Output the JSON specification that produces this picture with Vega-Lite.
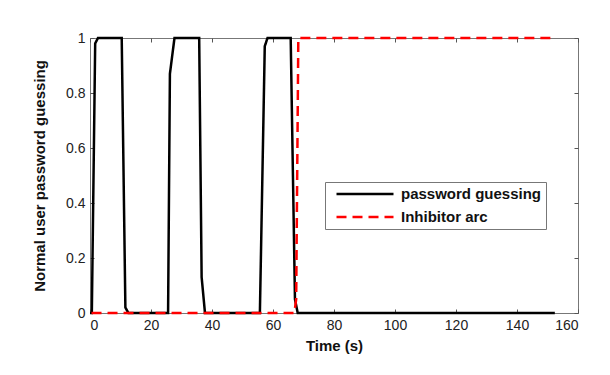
{
  "$schema": "https://vega.github.io/schema/vega-lite/v6.json",
  "autosize": {"type": "none"},
  "width": 488,
  "height": 275,
  "padding": {"left": 90, "top": 38, "right": 32, "bottom": 62},
  "background": "white",
  "config": {
    "font": "Liberation Sans",
    "view": {"stroke": "#777", "strokeWidth": 1},
    "axis": {"grid": false, "domain": false, "tickColor": "#555", "tickSize": -4, "labelFontSize": 14, "labelColor": "#222", "titleFontSize": 15, "titleFontWeight": "bold", "titleColor": "#111"}
  },
  "data": {"values": [
    {"t": 0, "v": 0, "s": "password guessing"},
    {"t": 0.6, "v": 0, "s": "password guessing"},
    {"t": 1.7, "v": 0.98, "s": "password guessing"},
    {"t": 2.6, "v": 1, "s": "password guessing"},
    {"t": 10.4, "v": 1, "s": "password guessing"},
    {"t": 11.6, "v": 0.02, "s": "password guessing"},
    {"t": 12.6, "v": 0, "s": "password guessing"},
    {"t": 25.6, "v": 0, "s": "password guessing"},
    {"t": 26.2, "v": 0.87, "s": "password guessing"},
    {"t": 27.7, "v": 1, "s": "password guessing"},
    {"t": 35.8, "v": 1, "s": "password guessing"},
    {"t": 36.6, "v": 0.13, "s": "password guessing"},
    {"t": 37.7, "v": 0, "s": "password guessing"},
    {"t": 55.7, "v": 0, "s": "password guessing"},
    {"t": 57.3, "v": 0.97, "s": "password guessing"},
    {"t": 58.2, "v": 1, "s": "password guessing"},
    {"t": 65.8, "v": 1, "s": "password guessing"},
    {"t": 67.2, "v": 0.05, "s": "password guessing"},
    {"t": 68.1, "v": 0, "s": "password guessing"},
    {"t": 152.4, "v": 0, "s": "password guessing"},
    {"t": 0.5, "v": 0, "s": "Inhibitor arc"},
    {"t": 67.0, "v": 0, "s": "Inhibitor arc"},
    {"t": 67.6, "v": 0.05, "s": "Inhibitor arc"},
    {"t": 68.3, "v": 1, "s": "Inhibitor arc"},
    {"t": 152.4, "v": 1, "s": "Inhibitor arc"}
  ]},
  "resolve": {"axis": {"x": "independent", "y": "independent"}},
  "layer": [
    {
      "mark": {"type": "line", "strokeWidth": 2.5},
      "encoding": {
        "x": {"field": "t", "type": "quantitative", "scale": {"domain": [0, 160], "nice": false}, "axis": {"title": "Time (s)", "values": [0, 20, 40, 60, 80, 100, 120, 140, 160], "labelPadding": 9, "titlePadding": 6}},
        "y": {"field": "v", "type": "quantitative", "scale": {"domain": [0, 1], "nice": false}, "axis": {"title": "Normal user password guessing", "values": [0, 0.2, 0.4, 0.6, 0.8, 1], "format": "~g", "labelPadding": 9, "titlePadding": 18}},
        "color": {"field": "s", "type": "nominal", "scale": {"domain": ["password guessing", "Inhibitor arc"], "range": ["#000000", "#ff0000"]}, "legend": {"title": null, "orient": "none", "legendX": 235, "legendY": 144, "strokeColor": "#777", "padding": 4, "symbolOffset": 6, "symbolType": "M-1,0H1", "symbolSize": 3249, "symbolStrokeWidth": 2.5, "clipHeight": 16, "labelFontSize": 15, "labelFontWeight": "bold", "labelColor": "#111", "labelLimit": 400, "rowPadding": 7, "labelOffset": 6, "labelExpr": "datum.label + '\u00a0\u00a0\u00a0\u00a0\u00a0\u00a0\u00a0'"}},
        "strokeDash": {"field": "s", "type": "nominal", "scale": {"domain": ["password guessing", "Inhibitor arc"], "range": [[1, 0], [10, 6]]}, "legend": null},
        "order": {"field": "t", "type": "quantitative"}
      }
    },
    {
      "mark": {"type": "rule", "opacity": 0},
      "data": {"values": [{"t": 0, "v": 0}]},
      "encoding": {
        "x": {"field": "t", "type": "quantitative", "scale": {"domain": [0, 160], "nice": false}, "axis": {"orient": "top", "labels": false, "title": null, "values": [0, 20, 40, 60, 80, 100, 120, 140, 160]}},
        "y": {"field": "v", "type": "quantitative", "scale": {"domain": [0, 1], "nice": false}, "axis": {"orient": "right", "labels": false, "title": null, "values": [0, 0.2, 0.4, 0.6, 0.8, 1]}}
      }
    }
  ]
}
